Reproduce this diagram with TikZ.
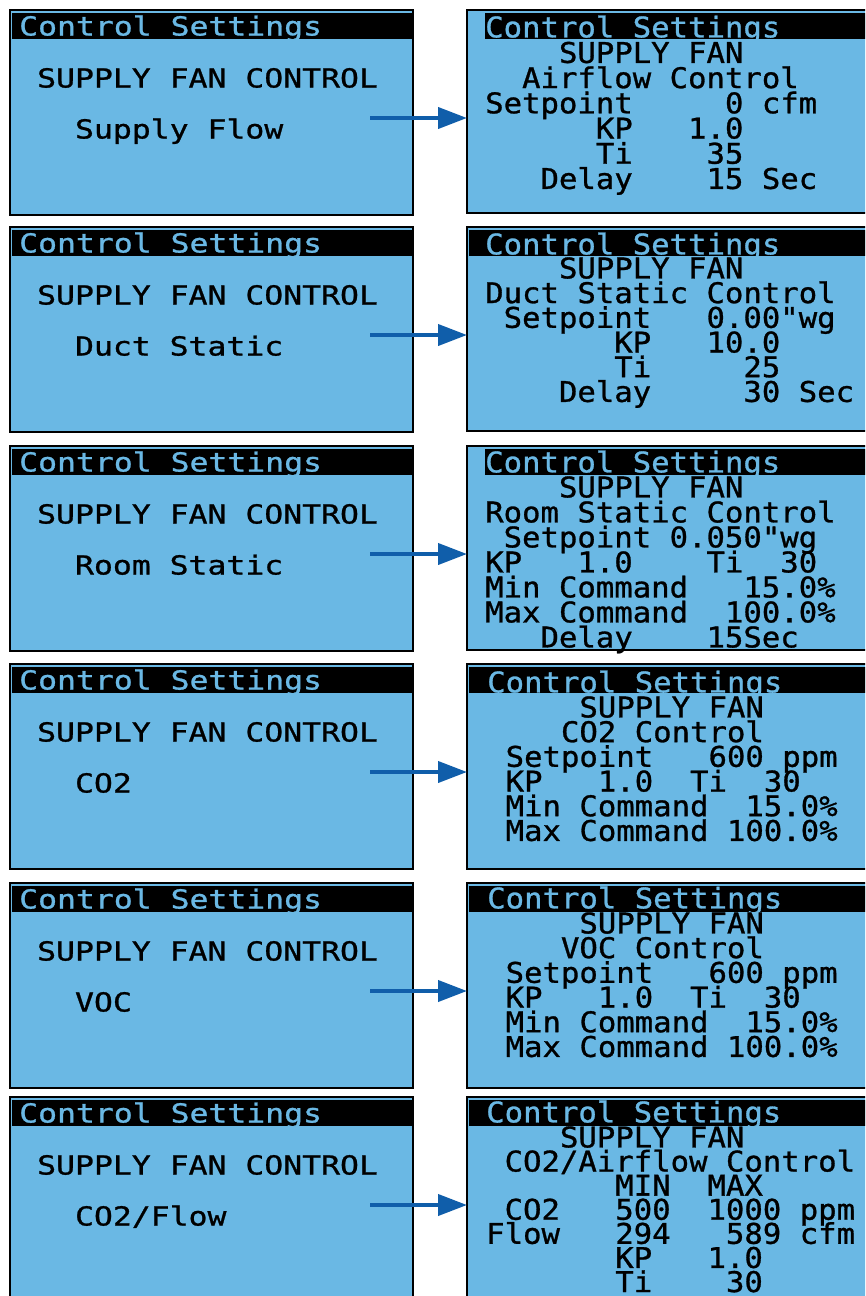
\documentclass[tikz,border=0pt]{standalone}
\usepackage{fontspec}
\usepackage{xcolor}
\usepackage{tikz}
\usetikzlibrary{arrows.meta}

\newfontfamily\lcdwidefam{DejaVu Sans Mono}[FakeStretch=1.2,FakeBold=1]
\newfontfamily\lcdtallfam{DejaVu Sans Mono}[FakeStretch=1.075,FakeBold=1]
\newcommand\lcdwide{\lcdwidefam\fontsize{26.2pt}{26.2pt}\selectfont}
\newcommand\lcdtall{\lcdtallfam\fontsize{28.5pt}{28.5pt}\selectfont}
\definecolor{lcdblue}{RGB}{106,184,228}
\definecolor{arrowblue}{RGB}{16,94,170}

\begin{document}
\begin{tikzpicture}[x=1pt,y=-1pt,
    panel/.style={draw=black,line width=2.5pt,fill=lcdblue,anchor=north west,
                  inner sep=0pt,outer sep=0pt},
    lpanel/.style={panel,minimum width=403pt,minimum height=205pt},
    rpanel/.style={panel,minimum width=420pt},
    ltext/.style={anchor=west,inner sep=0pt,text height=19pt,text depth=0pt,font=\lcdwide},
    rtext/.style={anchor=west,inner sep=0pt,text height=20.8pt,text depth=0pt,font=\lcdtall},
    flow/.style={-{Triangle[length=29pt,width=21pt]},line width=4pt,draw=arrowblue}]
\clip (0,0) rectangle (865,1296);

% left screens
\foreach \T/\what [count=\n] in {10/Supply~Flow,227/Duct~Static,446/Room~Static,
                                 664/CO2,883/VOC,1097/{CO2/Flow}}{
  \node[lpanel] (L\n) at (10,\T) {};
  \fill[black] (11.5,\T+2.5) rectangle (411.5,\T+29);
  \node[ltext,text=lcdblue] (LT\n) at (19,\T+16) {Control~Settings};
  \node[ltext] (LA\n) at (37,\T+68) {SUPPLY~FAN~CONTROL};
  \node[ltext] (LB\n) at (37,\T+119) {~~\what};
}

% right screens
\foreach \T/\h/\bx [count=\n] in {10/203/485,227/204/469,446/204/485,
                                  664/205/469,883/205/469,1097/220/469}{
  \node[rpanel,minimum height=\h pt] (R\n) at (467,\T) {};
  \fill[black] (\bx,\T+3) rectangle (870,\T+29);
  \coordinate (a\n) at (370,\T+108);
  \draw[flow] (a\n) -- (a\n -| R\n.west);
}
\node[rtext,text=lcdblue] (RT1) at (485,27) {Control~Settings};
\node[rtext,text=lcdblue] (RT2) at (485,244) {Control~Settings};
\node[rtext,text=lcdblue] (RT3) at (485,462) {Control~Settings};
\node[rtext,text=lcdblue] (RT4) at (487,682) {Control~Settings};
\node[rtext,text=lcdblue] (RT5) at (487,898) {Control~Settings};
\node[rtext,text=lcdblue] (RT6) at (486,1112) {Control~Settings};

\foreach \txt [count=\i from 0] in {~~~~SUPPLY~FAN,~~Airflow~Control,Setpoint~~~~~0~cfm,
    ~~~~~~KP~~~1.0,~~~~~~Ti~~~~35,~~~Delay~~~~15~Sec}
  \node[rtext] (R1-\i) at (485,52.5+25.2*\i) {\txt};

\foreach \txt [count=\i from 0] in {~~~~SUPPLY~FAN,Duct~Static~Control,~Setpoint~~~0.00"wg,
    ~~~~~~~KP~~~10.0,~~~~~~~Ti~~~~~25,~~~~Delay~~~~~30~Sec}
  \node[rtext] (R2-\i) at (485,268+24.7*\i) {\txt};

\foreach \txt [count=\i from 0] in {~~~~SUPPLY~FAN,Room~Static~Control,~Setpoint~0.050"wg,
    KP~~~1.0~~~~Ti~~30,Min~Command~~~15.0\%,Max~Command~~100.0\%,~~~Delay~~~~15Sec}
  \node[rtext] (R3-\i) at (485,487+25*\i) {\txt};

\foreach \txt [count=\i from 0] in {~~~~~SUPPLY~FAN,~~~~CO2~Control,~Setpoint~~~600~ppm,
    ~KP~~~1.0~~Ti~~30,~Min~Command~~15.0\%,~Max~Command~100.0\%}
  \node[rtext] (R4-\i) at (487,707+24.7*\i) {\txt};

\foreach \txt [count=\i from 0] in {~~~~~SUPPLY~FAN,~~~~VOC~Control,~Setpoint~~~600~ppm,
    ~KP~~~1.0~~Ti~~30,~Min~Command~~15.0\%,~Max~Command~100.0\%}
  \node[rtext] (R5-\i) at (487,923+24.7*\i) {\txt};

\foreach \txt [count=\i from 0] in {~~~~SUPPLY~FAN,~CO2/Airflow~Control,~~~~~~~MIN~~MAX,
    ~CO2~~~500~~1000~ppm,Flow~~~294~~~589~cfm,~~~~~~~KP~~~1.0,~~~~~~~Ti~~~~30}
  \node[rtext] (R6-\i) at (486,1137+24.1*\i) {\txt};
\end{tikzpicture}
\end{document}
